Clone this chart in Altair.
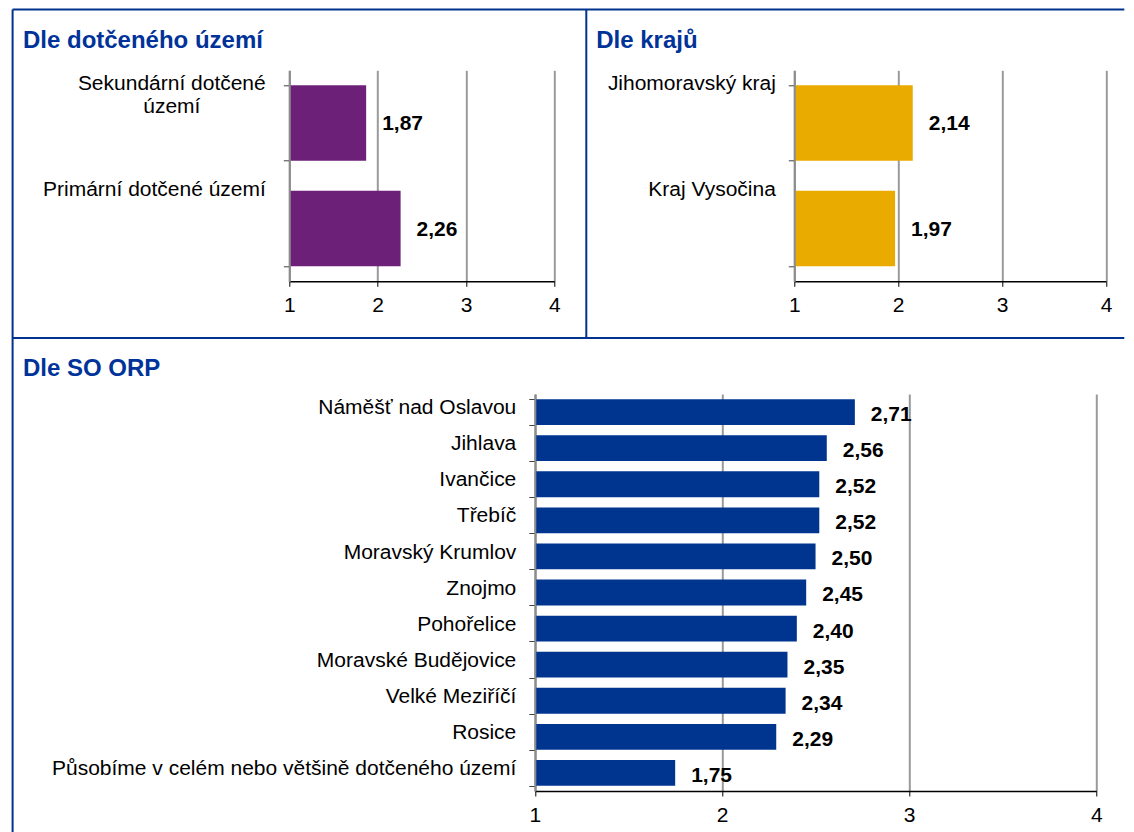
import altair as alt
import pandas as pd

FONT = "Liberation Sans, Arial, Helvetica, sans-serif"

# ---- data ----
uzemi_cats = ["Sekundární dotčené území", "Primární dotčené území"]
uzemi_vals = [1.87, 2.26]
kraje_cats = ["Jihomoravský kraj", "Kraj Vysočina"]
kraje_vals = [2.14, 1.97]
orp_cats = ["Náměšť nad Oslavou", "Jihlava", "Ivančice", "Třebíč", "Moravský Krumlov",
            "Znojmo", "Pohořelice", "Moravské Budějovice", "Velké Meziříčí", "Rosice",
            "Působíme v celém nebo většině dotčeného území"]
orp_vals = [2.71, 2.56, 2.52, 2.52, 2.50, 2.45, 2.40, 2.35, 2.34, 2.29, 1.75]
x_ticks = [1, 2, 3, 4]
titles = ["Dle dotčeného území", "Dle krajů", "Dle SO ORP"]
colors = ["#6C2077", "#EAAB00", "#00358F"]

BORDER = "#00338D"
TITLE_COLOR = "#003399"


def one(text=""):
    return alt.Chart(pd.DataFrame({"t": [text]}))


def title_mark(text, x, y):
    return one(text).mark_text(
        align="left", baseline="alphabetic", font=FONT, fontSize=24,
        fontWeight="bold", color=TITLE_COLOR
    ).encode(text="t:N", x=alt.value(x), y=alt.value(y))


def rule(x, x2, y, y2):
    return one().mark_rule(color=BORDER, strokeWidth=2).encode(
        x=alt.value(x), x2=alt.value(x2), y=alt.value(y), y2=alt.value(y2))


def panel(cats, vals, color, width, height, label_offset, label_padding,
          value_dy, title_layer, extra=(), label_align="right", label_expr=None,
          x_range=None, y_axis_offset=0):
    df = pd.DataFrame({"cat": cats, "v": vals})
    base = alt.Chart(df).transform_calculate(
        lab="replace(format(datum.v, '.2f'), '.', ',')")
    yaxis_kw = dict(
        title=None, domainColor="#8c8c8c", domainWidth=2, tickColor="#404040",
        tickSize=6, tickWidth=1, tickBand="extent", labelFont=FONT,
        labelFontSize=21, labelColor="#000000", labelBaseline="alphabetic",
        labelOffset=label_offset, labelPadding=label_padding, labelLimit=700,
        labelAlign=label_align, labelLineHeight=23, grid=False, zindex=1,
        offset=y_axis_offset)
    if label_expr is not None:
        yaxis_kw["labelExpr"] = label_expr
    y = alt.Y("cat:N", sort=cats,
              scale=alt.Scale(paddingInner=0.285, paddingOuter=0.1425),
              axis=alt.Axis(**yaxis_kw))
    xaxis = alt.Axis(values=x_ticks, title=None, grid=True, gridColor="#9a9a9a",
                     gridWidth=2, domainColor="#000000", domainWidth=1.5,
                     tickColor="#000000", tickSize=5, labelPadding=8.5,
                     labelFont=FONT, labelFontSize=21, labelColor="#000000",
                     labelAngle=0, format="d", labelFlush=False)
    sc = dict(domain=[1, 4], nice=False, zero=False)
    if x_range is not None:
        sc["range"] = x_range
    x = alt.X("v:Q", scale=alt.Scale(**sc), axis=xaxis)
    bars = base.mark_bar(color=color).encode(x=x, x2=alt.datum(1), y=y)
    text = base.mark_text(
        align="left", baseline="middle", dx=16, dy=value_dy, font=FONT,
        fontSize=21, fontWeight="bold", color="#000000"
    ).encode(x="v:Q", y=alt.Y("cat:N", sort=cats), text="lab:N")
    return alt.layer(*extra, bars, text, title_layer).properties(
        width=width, height=height)


# panel 1 plot origin is the reference for the frame lines
frame = [
    rule(-276.7, 835, -60.7, -60.7),     # top
    rule(-276.7, -276.7, -60.7, 775),    # left
    rule(-276.7, 835, 267.7, 267.7),     # middle horizontal
    rule(297, 297, -60.7, 267.7),        # vertical divider
]

sek = uzemi_cats[0]
p1 = panel(
    uzemi_cats, uzemi_vals, colors[0], 265, 211, -33.2,
    {"condition": {"test": f"datum.value == '{sek}'", "value": 112}, "value": 18},
    1, title_mark(titles[0], -266.3, -22.3), extra=frame,
    label_align={"condition": {"test": f"datum.value == '{sek}'", "value": "center"},
                 "value": "right"},
    label_expr=f"datum.value == '{sek}' ? ['Sekundární dotčené', 'území'] : datum.label")

p2 = panel(kraje_cats, kraje_vals, colors[1], 311.7, 211, -33.2, 13, 1,
           title_mark(titles[1], -198, -22.3))

# bottom panel shares the first column; its scale range is shifted to the right
p3 = panel(orp_cats, orp_vals, colors[2], 265, 397, 1.6, 13, 3,
           title_mark(titles[2], -266.3, -17.7),
           x_range=[245.5, 807], y_axis_offset=-245.5)

chart = alt.concat(
    p1, p2, p3, columns=2,
    spacing={"row": 112.7, "column": 240}, align="each", bounds="flush"
).properties(
    padding={"left": 3.3, "top": 0.3, "right": 0, "bottom": 0},
    background="white"
).configure_view(stroke=None)

chart.save("out.html", embed_options={"renderer": "svg", "actions": False})
